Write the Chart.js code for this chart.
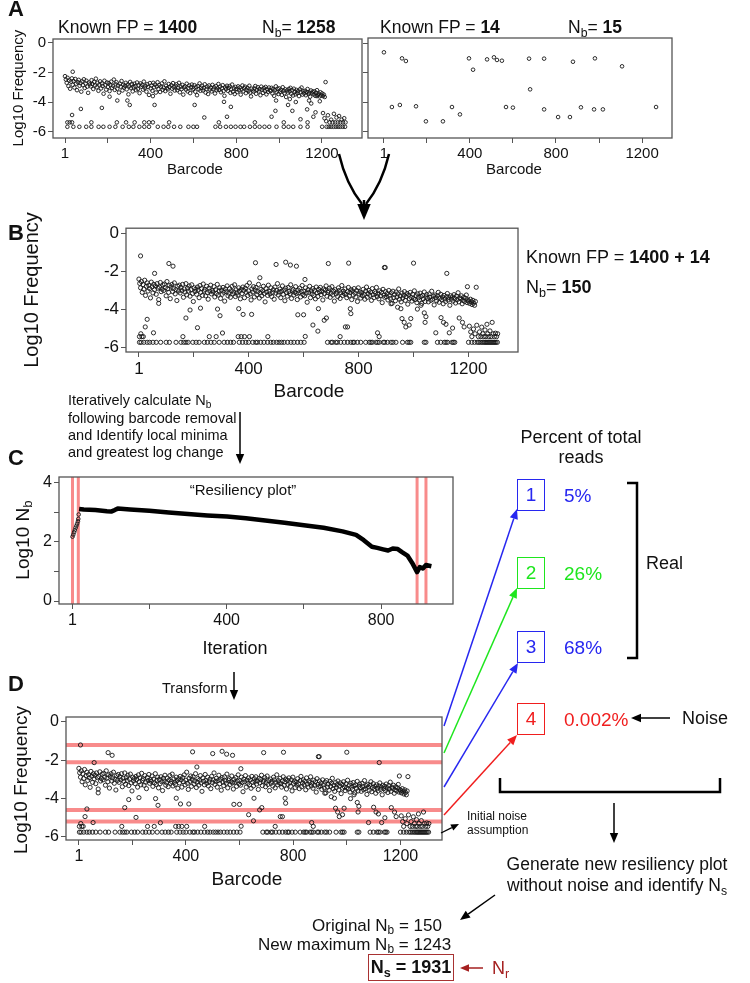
<!DOCTYPE html>
<html>
<head>
<meta charset="utf-8">
<script src="https://cdn.jsdelivr.net/npm/chart.js@4.4.1/dist/chart.umd.min.js"></script>
<style>
body { margin: 0; background: #fff; }
#fig { position: relative; width: 750px; height: 983px; overflow: hidden; font-family: 'Liberation Sans', Arial, sans-serif; color: #111; }
#fig canvas { position: absolute; }
#ann { position: absolute; left: 0; top: 0; }
.t { position: absolute; white-space: nowrap; line-height: 1; transform: translateY(-50%); }
.c { transform: translate(-50%, -50%); }
.v { transform: translate(-50%, -50%) rotate(-90deg); }
.pl { font-weight: bold; font-size: 22px; }
.bx { position: absolute; box-sizing: border-box; border: 1.5px solid; font-size: 19px; line-height: 29px; text-align: center; }
sub { font-size: 70%; vertical-align: -0.3em; line-height: 0; }
</style>
</head>
<body>
<div id="fig">
  <canvas id="aLeft"></canvas>
  <canvas id="aRight"></canvas>
  <canvas id="bPlot"></canvas>
  <canvas id="cPlot"></canvas>
  <canvas id="dPlot"></canvas>
  <svg id="ann" width="750" height="983"></svg>

  <div class="t pl" style="left:8px;top:9px">A</div>
  <div class="t" style="left:58px;top:28px;font-size:17.5px">Known FP = <b>1400</b></div>
  <div class="t" style="left:262px;top:28px;font-size:17.5px">N<sub>b</sub>= <b>1258</b></div>
  <div class="t" style="left:380px;top:28px;font-size:17.5px">Known FP = <b>14</b></div>
  <div class="t" style="left:568px;top:28px;font-size:17.5px">N<sub>b</sub>= <b>15</b></div>
  <div class="t v" style="left:17px;top:88px;font-size:15px">Log10 Frequency</div>
  <div class="t c" style="left:195px;top:168px;font-size:15px">Barcode</div>
  <div class="t c" style="left:514px;top:168px;font-size:15px">Barcode</div>

  <div class="t pl" style="left:8px;top:233px">B</div>
  <div class="t v" style="left:31px;top:290px;font-size:20px">Log10 Frequency</div>
  <div class="t c" style="left:309px;top:390px;font-size:19px">Barcode</div>
  <div class="t" style="left:526px;top:257px;font-size:18px">Known FP = <b>1400 + 14</b></div>
  <div class="t" style="left:526px;top:287px;font-size:18px">N<sub>b</sub>= <b>150</b></div>

  <div class="t" style="left:68px;top:400px;font-size:14.5px">Iteratively calculate N<sub>b</sub></div>
  <div class="t" style="left:68px;top:418px;font-size:14.5px">following barcode removal</div>
  <div class="t" style="left:68px;top:435px;font-size:14.5px">and Identify local minima</div>
  <div class="t" style="left:68px;top:452px;font-size:14.5px">and greatest log change</div>
  <div class="t pl" style="left:8px;top:458px">C</div>
  <div class="t v" style="left:22px;top:540px;font-size:19px">Log10 N<sub>b</sub></div>
  <div class="t c" style="left:243px;top:489px;font-size:15px">“Resiliency plot”</div>
  <div class="t c" style="left:235px;top:648px;font-size:18px">Iteration</div>

  <div class="t pl" style="left:8px;top:684px">D</div>
  <div class="t" style="left:162px;top:688px;font-size:14.5px">Transform</div>
  <div class="t v" style="left:20px;top:780px;font-size:19px">Log10 Frequency</div>
  <div class="t c" style="left:247px;top:878px;font-size:19px">Barcode</div>
  <div class="t" style="left:467px;top:816px;font-size:12px">Initial noise</div>
  <div class="t" style="left:467px;top:830px;font-size:12px">assumption</div>

  <div class="t c" style="left:581px;top:437px;font-size:18px">Percent of total</div>
  <div class="t c" style="left:581px;top:457px;font-size:18px">reads</div>
  <div class="bx" style="left:517px;top:479px;width:28px;height:32px;color:#2727f0;border-color:#2727f0">1</div>
  <div class="bx" style="left:517px;top:557px;width:28px;height:32px;color:#1ee61e;border-color:#1ee61e">2</div>
  <div class="bx" style="left:517px;top:631px;width:28px;height:32px;color:#2727f0;border-color:#2727f0">3</div>
  <div class="bx" style="left:517px;top:703px;width:28px;height:32px;color:#f01e1e;border-color:#f01e1e">4</div>
  <div class="t" style="left:564px;top:495px;font-size:19px;color:#2727f0">5%</div>
  <div class="t" style="left:564px;top:573px;font-size:19px;color:#1ee61e">26%</div>
  <div class="t" style="left:564px;top:647px;font-size:19px;color:#2727f0">68%</div>
  <div class="t" style="left:564px;top:719px;font-size:19px;color:#f01e1e">0.002%</div>
  <div class="t" style="left:646px;top:563px;font-size:18px">Real</div>
  <div class="t" style="left:682px;top:718px;font-size:18px">Noise</div>

  <div class="t c" style="left:617px;top:865px;font-size:17.5px">Generate new resiliency plot</div>
  <div class="t c" style="left:617px;top:886px;font-size:17.5px">without noise and identify N<sub>s</sub></div>
  <div class="t" style="left:312px;top:925px;font-size:17px">Original N<sub>b</sub> = 150</div>
  <div class="t" style="left:258px;top:944px;font-size:17px">New maximum N<sub>b</sub> = 1243</div>
  <div class="bx" style="left:368px;top:954px;width:86px;height:27px;border-color:#a83232;color:#111;font-size:18px;line-height:24px"><b>N<sub>s</sub> = 1931</b></div>
  <div class="t" style="left:492px;top:968px;font-size:18px;color:#a52020">N<sub>r</sub></div>
</div>

<script>
// ---- axes ----
var barcodeTicks = [1, 200, 400, 600, 800, 1000, 1200];
var barcodeLabels = [1, 400, 800, 1200];
var freqTicks = [0, -2, -4, -6];
var iterTicks = [1, 200, 400, 600, 800];
var iterLabels = [1, 400, 800];
var nbTicks = [0, 1, 2, 3, 4];
var nbLabels = [0, 2, 4];

// ---- panel A, left: Known FP = 1400 ----
var aBandStart = 1, aBandStep = 4;
var aBand = [
  -2.25,-2.48,-2.70,-2.36,-2.92,-2.55,-3.10,-2.62,-2.40,-2.84,
  -2.58,-3.02,-2.44,-2.76,-3.20,-2.66,-2.50,-2.90,-2.72,-3.30,
  -2.60,-2.86,-2.46,-3.05,-2.74,-2.56,-2.96,-3.38,-2.68,-2.80,
  -2.94,-2.52,-2.78,-3.12,-2.64,-2.88,-2.42,-3.00,-2.70,-3.24,
  -2.82,-2.60,-3.08,-2.74,-2.92,-3.44,-2.56,-2.86,-3.16,-2.68,
  -2.98,-2.72,-3.26,-2.84,-2.62,-3.04,-2.90,-2.48,-3.18,-2.80,
  -2.66,-3.10,-2.88,-3.36,-2.76,-2.96,-2.58,-3.22,-2.84,-3.02,
  -2.90,-2.70,-3.14,-2.82,-3.48,-2.94,-2.64,-3.06,-2.78,-3.28,
  -3.00,-2.76,-2.92,-3.20,-2.68,-3.12,-2.86,-3.40,-2.74,-2.96,
  -2.84,-3.16,-2.62,-3.04,-2.92,-3.30,-2.80,-2.98,-3.52,-2.72,
  -3.08,-2.88,-3.24,-2.70,-3.00,-2.82,-3.36,-2.94,-2.66,-3.12,
  -2.86,-3.32,-2.96,-2.74,-3.18,-3.02,-2.60,-3.26,-2.90,-3.06,
  -3.14,-2.78,-2.98,-3.44,-2.86,-3.10,-2.72,-3.00,-3.22,-2.92,
  -2.80,-3.20,-3.04,-2.70,-3.34,-2.96,-3.12,-2.84,-3.50,-3.02,
  -2.94,-3.16,-2.76,-3.28,-3.06,-2.88,-3.40,-3.00,-2.82,-3.18,
  -3.10,-2.86,-3.30,-2.98,-3.54,-2.92,-3.14,-2.74,-3.24,-3.04,
  -2.90,-3.22,-3.06,-2.80,-3.36,-3.12,-2.96,-3.46,-2.88,-3.16,
  -3.02,-3.28,-2.84,-3.14,-3.00,-3.42,-2.92,-3.20,-3.08,-2.78,
  -3.18,-2.96,-3.34,-3.06,-2.86,-3.26,-3.58,-3.00,-3.12,-2.90,
  -3.24,-3.04,-2.92,-3.38,-3.14,-2.82,-3.30,-3.08,-3.46,-2.98,
  -3.12,-3.32,-2.94,-3.20,-3.02,-3.50,-3.16,-2.88,-3.28,-3.06,
  -2.96,-3.40,-3.18,-3.04,-3.26,-2.90,-3.36,-3.62,-3.10,-3.22,
  -3.30,-3.08,-2.92,-3.44,-3.18,-3.00,-3.28,-3.12,-3.54,-2.96,
  -3.16,-3.38,-3.06,-3.24,-2.98,-3.48,-3.14,-3.32,-3.02,-3.20,
  -3.26,-3.04,-3.42,-3.12,-3.58,-3.20,-2.94,-3.34,-3.10,-3.46,
  -3.08,-3.30,-3.18,-3.52,-3.00,-3.24,-3.40,-3.14,-3.66,-3.22,
  -3.36,-3.12,-3.28,-3.04,-3.44,-3.20,-3.56,-3.10,-3.32,-3.48,
  -3.18,-3.40,-3.26,-3.60,-3.14,-3.34,-3.02,-3.50,-3.28,-3.42,
  -3.24,-3.54,-3.32,-3.12,-3.46,-3.36,-3.64,-3.22,-3.40,-3.30,
  -3.48,-3.28,-3.58,-3.38,-3.20,-3.52,-3.44,-3.62,-3.34,-3.56,
  -3.42,-3.60,-3.50,-3.66,-2.65
];
var aOther = [
  [37,-1.95],[12,-5.38],[23,-5.38],[34,-4.88],[34,-5.38],[75,-4.47],[124,-5.38],[173,-4.4],
  [209,-3.64],[243,-5.38],[245,-3.9],[286,-5.38],[292,-3.9],[303,-4.2],[326,-5.38],[371,-5.38],
  [393,-5.38],[411,-3.6],[411,-5.38],[419,-4.2],[487,-5.38],[606,-4.2],[651,-5.05],[719,-5.38],
  [743,-3.99],[757,-5.0],[775,-4.33],[887,-5.38],[965,-5.0],[983,-4.6],[986,-3.9],[1022,-5.38],
  [1042,-4.2],[1050,-3.8],[1062,-4.6],[1078,-4.0],[1100,-5.17],[1131,-4.5],[1133,-5.38],[1140,-3.9],
  [1150,-4.1],[1160,-5.0],[1170,-4.7],[1177,-3.6],[1190,-3.95],
  [1205,-4.75],[1212,-5.1],[1220,-5.3],[1228,-4.9],[1236,-5.38],[1243,-5.2],[1250,-5.38],[1256,-4.8],
  [1262,-5.38],[1268,-5.05],[1274,-5.38],[1280,-4.95],[1286,-5.38],[1292,-5.2],[1298,-5.38],[1304,-5.1],[1310,-5.38]
];
var aFloor = -5.68;
var aFloorX = [12,40,68,100,124,158,180,209,236,270,299,320,348,371,393,434,461,483,510,539,577,600,617,
  703,725,752,775,797,820,837,864,887,909,932,954,988,1022,1044,1066,1100,1133,1201,1222,1232,1243,
  1254,1265,1276,1286,1297,1308];

// ---- panel A, right: Known FP = 14 ----
var aRight = [
  [1,-0.63],[38,-4.34],[75,-4.2],[85,-1.04],[103,-1.22],[150,-4.29],[196,-5.31],[275,-5.31],
  [317,-4.34],[354,-4.84],[396,-1.04],[415,-1.81],[480,-1.11],[512,-0.97],[526,-1.15],[549,-1.2],
  [568,-4.34],[600,-4.38],[675,-1.06],[680,-3.14],[745,-1.06],[745,-4.5],[810,-5.02],[865,-5.02],
  [879,-1.27],[916,-4.36],[977,-4.5],[981,-1.04],[1018,-4.5],[1107,-1.58],[1265,-4.34]
];

// ---- panels B and D: combined 1400 + 14 ----
var bBandStart = 1, bBandStep = 3;
var bBand = [
  -2.42,-2.65,-2.88,-2.55,-3.12,-2.71,-2.95,-2.48,-3.28,-2.80,
  -2.62,-3.05,-2.75,-2.92,-3.41,-2.58,-2.83,-3.15,-2.70,-2.97,
  -2.78,-3.22,-2.66,-2.90,-3.50,-2.85,-2.60,-3.08,-2.95,-2.72,
  -3.02,-2.68,-2.88,-3.30,-2.55,-2.93,-3.12,-2.76,-3.45,-2.84,
  -2.70,-3.08,-2.92,-2.62,-3.20,-2.98,-3.55,-2.80,-3.05,-2.74,
  -3.15,-2.86,-3.02,-2.70,-3.38,-2.94,-3.10,-2.66,-3.25,-2.90,
  -3.05,-2.78,-3.32,-2.98,-2.72,-3.18,-3.60,-2.88,-3.08,-2.95,
  -3.22,-2.84,-3.00,-3.40,-2.76,-3.12,-2.92,-3.28,-2.68,-3.05,
  -2.96,-3.30,-2.80,-3.14,-3.48,-2.90,-3.06,-2.74,-3.20,-3.02,
  -3.10,-2.82,-3.36,-2.98,-3.18,-2.70,-3.26,-3.04,-2.88,-3.44,
  -3.00,-3.22,-2.86,-3.12,-3.58,-2.94,-3.08,-2.78,-3.30,-3.16,
  -2.92,-3.38,-3.04,-2.80,-3.20,-3.10,-2.72,-3.34,-2.98,-3.14,
  -3.26,-2.88,-3.06,-3.46,-2.96,-3.18,-2.84,-3.02,-3.40,-2.90,
  -3.12,-2.76,-3.28,-3.04,-2.62,-3.20,-3.52,-2.94,-3.10,-2.82,
  -3.36,-3.00,-2.86,-3.24,-3.08,-2.70,-3.42,-3.14,-2.96,-3.30,
  -3.04,-2.80,-3.18,-3.62,-2.92,-3.10,-3.28,-2.74,-3.06,-3.20,
  -2.88,-3.34,-3.12,-2.98,-3.48,-2.84,-3.16,-3.02,-2.66,-3.26,
  -3.10,-2.94,-3.40,-3.06,-2.78,-3.22,-3.00,-3.56,-2.90,-3.14,
  -3.32,-2.86,-3.08,-3.20,-2.72,-3.44,-3.04,-2.96,-3.26,-3.12,
  -2.82,-3.18,-3.50,-3.00,-3.14,-2.90,-3.36,-3.08,-2.76,-3.24,
  -3.06,-3.30,-2.88,-3.16,-3.64,-2.98,-3.12,-2.80,-3.40,-3.04,
  -3.20,-2.92,-3.28,-3.02,-3.46,-2.84,-3.14,-3.34,-2.96,-3.10,
  -2.86,-3.24,-3.08,-3.52,-2.94,-3.18,-3.00,-2.78,-3.32,-3.12,
  -3.04,-2.90,-3.38,-3.16,-2.82,-3.26,-3.06,-3.58,-2.98,-3.20,
  -3.10,-3.34,-2.88,-3.02,-3.44,-3.14,-2.76,-3.28,-3.06,-3.18,
  -2.94,-3.22,-3.40,-3.08,-2.86,-3.30,-3.12,-2.98,-3.50,-3.04,
  -3.26,-2.92,-3.16,-3.36,-3.02,-3.60,-2.88,-3.20,-3.10,-3.42,
  -3.14,-3.30,-2.96,-3.22,-3.48,-3.06,-2.84,-3.38,-3.18,-3.02,
  -3.28,-3.10,-3.54,-2.92,-3.24,-3.40,-3.08,-3.16,-2.86,-3.34,
  -3.20,-3.46,-3.04,-3.30,-3.12,-3.66,-2.96,-3.26,-3.38,-3.08,
  -3.34,-3.18,-3.52,-3.02,-3.28,-3.44,-3.14,-3.70,-3.06,-3.40,
  -3.24,-3.56,-3.10,-3.36,-3.20,-2.94,-3.48,-3.30,-3.62,-3.16,
  -3.42,-3.28,-3.08,-3.54,-3.34,-3.18,-3.74,-3.26,-3.46,-3.12,
  -3.38,-3.58,-3.22,-3.44,-3.04,-3.50,-3.30,-3.66,-3.20,-3.40,
  -3.52,-3.16,-3.34,-3.70,-3.28,-3.46,-3.10,-3.60,-3.36,-3.24,
  -3.44,-3.62,-3.20,-3.38,-3.54,-3.06,-3.48,-3.32,-3.78,-3.26,
  -3.40,-3.56,-3.30,-3.12,-3.64,-3.42,-3.22,-3.50,-3.36,-3.72,
  -3.28,-3.46,-3.60,-3.34,-3.18,-3.52,-3.40,-3.80,-3.30,-3.48,
  -3.36,-3.58,-3.24,-3.44,-3.68,-3.32,-3.50,-3.14,-3.62,-3.40,
  -3.46,-3.30,-3.72,-3.54,-3.38,-3.60,-3.44,-3.26,-3.66,-3.52,
  -3.58,-3.70,-3.48,-3.62,-3.76,-3.54,-3.68,-3.80,-3.60,-2.85
];
var bOther = [
  [7,-1.2],[58,-2.12],[110,-1.6],[125,-1.74],[425,-1.56],[441,-2.35],[500,-1.65],[535,-1.53],
  [552,-1.68],[574,-1.74],[605,-2.44],[690,-1.6],[764,-1.58],[894,-1.81],[897,-1.81],[1000,-1.58],[1121,-2.12],
  [3,-5.45],[8,-5.3],[12,-5.45],[17,-5.45],[24,-4.94],[31,-4.54],[54,-5.25],[73,-3.7],[161,-5.45],
  [172,-4.47],[187,-4.05],[214,-4.98],[225,-3.95],[257,-5.45],[282,-5.45],[287,-4.0],[296,-4.35],[305,-5.26],
  [362,-5.45],[364,-3.98],[373,-5.45],[380,-4.28],[385,-5.45],[403,-5.45],[411,-4.28],[470,-5.45],
  [579,-4.3],[600,-4.3],[606,-5.44],[634,-4.84],[652,-5.16],[654,-3.98],[675,-4.59],[683,-4.47],[733,-5.45],
  [752,-4.94],[760,-4.94],[770,-3.98],[772,-4.24],[869,-5.25],[875,-5.45],[918,-3.72],[942,-3.9],
  [954,-3.98],[958,-4.5],[966,-4.7],[972,-4.94],[984,-4.84],[990,-4.5],[1014,-4.0],[1027,-3.8],
  [1039,-4.2],[1042,-4.7],[1045,-4.4],[1081,-5.25],[1100,-4.45],[1109,-4.7],[1118,-4.8],[1130,-5.25],
  [1142,-5.0],[1166,-4.47],[1178,-4.7],[1184,-4.94],[1196,-2.82],
  [1203,-4.9],[1208,-5.2],[1212,-5.45],[1218,-5.05],[1224,-5.3],[1230,-4.85],[1236,-5.45],[1240,-5.2],
  [1245,-5.45],[1248,-4.95],[1252,-5.3],[1256,-5.45],[1260,-5.1],[1263,-5.45],[1267,-4.8],[1270,-5.3],
  [1274,-5.45],[1278,-5.15],[1282,-5.45],[1286,-4.7],[1290,-5.3],[1294,-5.45],[1298,-5.27],[1302,-5.45],[1306,-5.3]
];
var bFloor = -5.75;
var bFloorX = [3,9,19,31,40,52,64,80,100,112,136,154,164,172,180,197,209,220,239,250,263,275,293,311,323,
  335,345,366,378,390,400,415,426,432,444,456,469,481,490,502,511,520,529,542,554,565,578,590,602,
  687,700,705,717,723,735,748,760,772,780,784,796,808,826,839,845,850,863,869,875,890,895,905,918,925,
  936,960,978,984,990,1039,1045,1087,1099,1112,1118,1124,1140,1145,1150,1200,1212,1222,1232,1238,1244,
  1250,1255,1260,1264,1268,1272,1276,1280,1284,1288,1292,1296,1300,1305];
var noiseCuts = [-1.2, -2.1, -4.6, -5.2];

// ---- panel C: resiliency plot ----
var riseIter = [1, 3, 5, 7, 9, 11, 13, 15, 16, 17];
var riseNb = [2.18, 2.25, 2.33, 2.4, 2.48, 2.55, 2.62, 2.7, 2.78, 2.93];
var curveIter = [18, 30, 60, 90, 101, 110, 118, 150, 200, 250, 300, 350, 401, 450, 500, 550, 600, 651,
  700, 735, 755, 776, 790, 805, 818, 830, 843, 855, 868, 880, 893, 900, 908, 916, 930];
var curveNb = [3.12, 3.1, 3.08, 3.04, 3.03, 3.08, 3.13, 3.1, 3.06, 3.0, 2.95, 2.9, 2.86, 2.8, 2.73, 2.65,
  2.57, 2.48, 2.36, 2.24, 2.06, 1.84, 1.8, 1.75, 1.71, 1.78, 1.76, 1.65, 1.54, 1.3, 0.98, 1.15, 1.1, 1.22, 1.18];
var iterCuts = [1, 16, 893, 916];

var FONT = "'Liberation Sans', Arial, sans-serif";

function seqPoints(vals, start, step) {
  return vals.map(function (v, i) { return {x: start + step * i, y: v}; });
}
function pairPoints(arr) {
  return arr.map(function (p) { return {x: p[0], y: p[1]}; });
}
function rowPoints(xs, y) {
  return xs.map(function (x) { return {x: x, y: y}; });
}
function dots(points, r, bw) {
  return {data: points, pointRadius: r || 2.1, pointBorderWidth: bw || 0.9, borderColor: '#161616',
    backgroundColor: 'rgba(0,0,0,0)', pointHoverRadius: 0};
}

var boxPlugin = {
  id: 'box',
  afterDraw: function (chart) {
    var a = chart.chartArea, c = chart.ctx;
    c.save();
    c.strokeStyle = '#555';
    c.lineWidth = 1.3;
    c.strokeRect(a.left, a.top, a.right - a.left, a.bottom - a.top);
    c.restore();
  }
};

function guidePlugin(axis, values) {
  return {
    id: 'guides',
    beforeDatasetsDraw: function (chart) {
      var a = chart.chartArea, c = chart.ctx, s = chart.scales[axis];
      c.save();
      c.strokeStyle = 'rgba(246,110,110,0.8)';
      c.lineWidth = axis === 'x' ? 3 : 4;
      values.forEach(function (v) {
        var p = s.getPixelForValue(v);
        c.beginPath();
        if (axis === 'x') { c.moveTo(p, a.top); c.lineTo(p, a.bottom); }
        else { c.moveTo(a.left, p); c.lineTo(a.right, p); }
        c.stroke();
      });
      c.restore();
    }
  };
}

function scaleOpts(ax, size, horiz) {
  return {
    type: 'linear', min: ax.min, max: ax.max,
    afterBuildTicks: function (s) { s.ticks = ax.ticks.map(function (v) { return {value: v}; }); },
    afterFit: function (s) { if (horiz) s.height = size; else s.width = size; },
    ticks: {
      autoSkip: false, maxRotation: 0, padding: 2, color: '#111',
      font: {family: FONT, size: ax.font},
      callback: function (v) { return ax.labels.indexOf(v) >= 0 ? String(v) : ''; }
    },
    grid: {drawOnChartArea: false, drawTicks: true, tickLength: 5, color: '#555'},
    border: {display: false}
  };
}

function makePanel(id, box, xAx, yAx, datasets, extra) {
  var cv = document.getElementById(id);
  var padT = 12, padR = 12;
  var W = box.yw + box.w + padR, H = padT + box.h + box.xh;
  cv.width = W; cv.height = H;
  cv.style.width = W + 'px'; cv.style.height = H + 'px';
  cv.style.left = (box.l - box.yw) + 'px';
  cv.style.top = (box.t - padT) + 'px';
  return new Chart(cv, {
    type: 'scatter',
    data: {datasets: datasets},
    options: {
      responsive: false, animation: false,
      layout: {padding: {top: padT, right: padR, left: 0, bottom: 0}},
      plugins: {legend: {display: false}, tooltip: {enabled: false}},
      scales: {x: scaleOpts(xAx, box.xh, true), y: scaleOpts(yAx, box.yw, false)}
    },
    plugins: [boxPlugin].concat(extra || [])
  });
}

// A left
makePanel('aLeft', {l: 53, t: 39, w: 309, h: 99, yw: 30, xh: 24},
  {min: -55, max: 1387, ticks: barcodeTicks, labels: barcodeLabels, font: 15},
  {min: -6.44, max: 0.27, ticks: freqTicks, labels: freqTicks, font: 15},
  [dots(seqPoints(aBand, aBandStart, aBandStep), 1.8),
   dots(pairPoints(aOther), 1.8),
   dots(rowPoints(aFloorX, aFloor), 1.8)]);

// A right
makePanel('aRight', {l: 368, t: 38, w: 304, h: 100, yw: 8, xh: 24},
  {min: -73, max: 1339, ticks: barcodeTicks, labels: barcodeLabels, font: 15},
  {min: -6.44, max: 0.34, ticks: freqTicks, labels: [], font: 15},
  [dots(pairPoints(aRight), 1.8)]);

// B
makePanel('bPlot', {l: 126, t: 228, w: 392, h: 124, yw: 40, xh: 28},
  {min: -46, max: 1380, ticks: barcodeTicks, labels: barcodeLabels, font: 17},
  {min: -6.26, max: 0.26, ticks: freqTicks, labels: freqTicks, font: 17},
  [dots(seqPoints(bBand, bBandStart, bBandStep)),
   dots(pairPoints(bOther)),
   dots(rowPoints(bFloorX, bFloor))]);

// C
makePanel('cPlot', {l: 59, t: 477, w: 394, h: 127, yw: 30, xh: 28},
  {min: -34, max: 986, ticks: iterTicks, labels: iterLabels, font: 16},
  {min: -0.1, max: 4.2, ticks: nbTicks, labels: nbLabels, font: 16},
  [{data: curveIter.map(function (x, i) { return {x: x, y: curveNb[i]}; }), showLine: true,
    borderColor: '#000', borderWidth: 4.5, borderJoinStyle: 'round', pointRadius: 0, pointHoverRadius: 0},
   dots(riseIter.map(function (x, i) { return {x: x, y: riseNb[i]}; }), 1.8)],
  [guidePlugin('x', iterCuts)]);

// D
makePanel('dPlot', {l: 66, t: 717, w: 376, h: 123, yw: 34, xh: 28},
  {min: -47, max: 1355, ticks: barcodeTicks, labels: barcodeLabels, font: 16},
  {min: -6.16, max: 0.26, ticks: freqTicks, labels: freqTicks, font: 16},
  [dots(seqPoints(bBand, bBandStart, bBandStep)),
   dots(pairPoints(bOther)),
   dots(rowPoints(bFloorX, bFloor))],
  [guidePlugin('y', noiseCuts)]);

// ---- arrows and brackets ----
var svg = document.getElementById('ann');
var NS = 'http://www.w3.org/2000/svg';
function el(tag, attrs) {
  var e = document.createElementNS(NS, tag);
  for (var k in attrs) e.setAttribute(k, attrs[k]);
  svg.appendChild(e);
  return e;
}
function arrow(x1, y1, x2, y2, color, w, head) {
  head = head || 9;
  var ang = Math.atan2(y2 - y1, x2 - x1);
  var bx = x2 - head * Math.cos(ang), by = y2 - head * Math.sin(ang);
  el('line', {x1: x1, y1: y1, x2: bx, y2: by, stroke: color, 'stroke-width': w});
  var hw = head * 0.42;
  var px = -Math.sin(ang) * hw, py = Math.cos(ang) * hw;
  el('polygon', {points: x2 + ',' + y2 + ' ' + (bx + px) + ',' + (by + py) + ' ' + (bx - px) + ',' + (by - py), fill: color});
}

// A -> B merge
el('path', {d: 'M339,154 Q346,184 362,204', fill: 'none', stroke: '#000', 'stroke-width': 2.5});
el('path', {d: 'M389,154 Q382,184 366,204', fill: 'none', stroke: '#000', 'stroke-width': 2.5});
arrow(364, 200, 364, 220, '#000', 2.5, 16);

arrow(240, 412, 240, 464, '#000', 1.5, 10);
arrow(234, 672, 234, 700, '#000', 1.5, 10);

arrow(444, 726, 517, 509, '#2727f0', 1.5, 10);
arrow(444, 753, 517, 588, '#1ee61e', 1.5, 10);
arrow(444, 787, 518, 663, '#2727f0', 1.5, 10);
arrow(444, 815, 517, 735, '#f01e1e', 1.5, 10);

arrow(441, 833, 459, 824, '#000', 1.3, 8);
arrow(670, 718, 631, 718, '#000', 1.5, 10);

el('polyline', {points: '627,483 637,483 637,658 627,658', fill: 'none', stroke: '#000', 'stroke-width': 2.5});
el('polyline', {points: '500,778 500,792 720,792 720,778', fill: 'none', stroke: '#000', 'stroke-width': 2.5});
arrow(614, 803, 614, 843, '#000', 1.5, 10);
arrow(495, 895, 460, 920, '#000', 1.5, 10);
arrow(483, 968, 460, 968, '#a52020', 1.5, 9);
</script>
</body>
</html>
